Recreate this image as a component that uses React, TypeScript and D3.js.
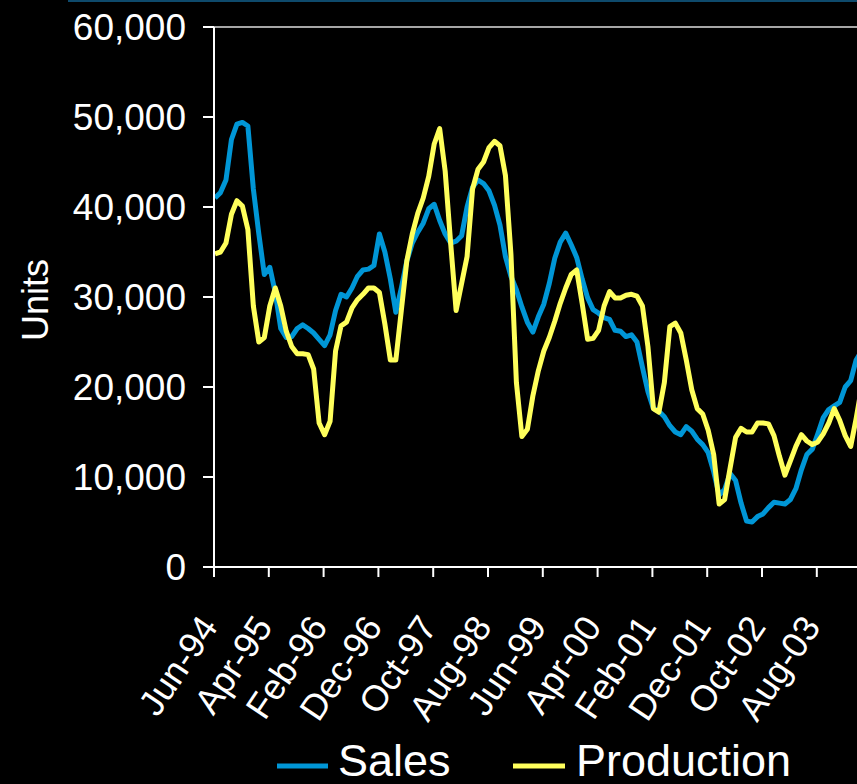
import React from "react";
import * as d3 from "d3";

const SALES: number[] = [
  41000, 41600, 43000, 47500, 49200, 49400, 49000, 42000, 37000, 32500,
  33300, 30500, 26500, 25500, 25600, 26500, 26900, 26500, 26000, 25300,
  24600, 25800, 28500, 30300, 30000, 31000, 32300, 33000, 33100, 33500,
  37000, 35000, 32000, 28300, 31000, 34000, 36000, 37200, 38200, 39800,
  40300, 38500, 37000, 36000, 36200, 36800, 40000, 42200, 43000, 42600,
  41800, 40200, 38000, 34500, 32300, 30800, 28900, 27200, 26100, 27800,
  29200, 31500, 34300, 36100, 37100, 35800, 34400, 32000, 29900, 28600,
  28200, 27700, 27500, 26300, 26200, 25600, 25800, 25000, 22200, 19500,
  17600, 17300, 16700, 15700, 15000, 14700, 15600, 15100, 14200, 13600,
  12700, 10600, 8000, 8600, 10400, 9600, 7100, 5100, 5000, 5600,
  5900, 6600, 7200, 7100, 7000, 7500, 8700, 10800, 12500, 13100,
  14800, 16600, 17500, 17900, 18300, 20000, 20700, 23000, 24000,
];

const PRODUCTION: number[] = [
  34800, 35000, 36000, 39200, 40700, 40100, 37500, 29000, 25000, 25500,
  29000, 31000, 29000, 26200, 24500, 23700, 23700, 23600, 22000, 16000,
  14700, 16200, 24000, 26800, 27200, 28800, 29700, 30300, 31000, 31000,
  30500, 27000, 23000, 23000, 28500, 34000, 37000, 39300, 41000, 43400,
  47000, 48700, 44000, 36000, 28500, 31500, 34500, 42000, 44200, 45000,
  46600, 47300, 46800, 43500, 34800, 20500, 14500, 15300, 19000, 21800,
  24000, 25500, 27300, 29300, 31000, 32500, 33000, 29300, 25300, 25400,
  26300, 29000, 30600, 29900, 29900, 30200, 30300, 30100, 29000, 24500,
  17600, 17200, 20500, 26700, 27100, 26000, 23000, 19700, 17600, 17000,
  15200, 12500, 7000, 7500, 11000, 14400, 15400, 15000, 15000, 16000,
  16000, 15900, 14600, 12300, 10200, 11800, 13400, 14700, 14000, 13600,
  13900, 14800, 16000, 17600, 16300, 14600, 13400, 16500, 20000,
];

const X_TICK_LABELS: string[] = [
  "Jun-94", "Apr-95", "Feb-96", "Dec-96", "Oct-97", "Aug-98",
  "Jun-99", "Apr-00", "Feb-01", "Dec-01", "Oct-02", "Aug-03",
];
const X_TICK_STEP = 10;
const Y_TICKS: number[] = [0, 10000, 20000, 30000, 40000, 50000, 60000];

const SERIES = [
  { name: "Sales", values: SALES, color: "#0096D6" },
  { name: "Production", values: PRODUCTION, color: "#FFFF5C" },
];

const W = 857;
const H = 784;
const FONT = "'Liberation Sans', Arial, Helvetica, sans-serif";

export default function App() {
  const x = d3.scaleLinear().domain([0, 120]).range([214, 214 + 120 * 5.48]);
  const y = d3.scaleLinear().domain([0, 60000]).range([567, 27]);
  const fmt = d3.format(",");

  const line = d3
    .line<number>()
    .x((_, i) => x(i) + 1)
    .y((d) => y(d));

  const tickIdx = X_TICK_LABELS.map((_, k) => k * X_TICK_STEP);
  const plotRight = x(120);

  return (
    <svg
      width={W}
      height={H}
      style={{ position: "absolute", left: 0, top: 0, background: "#000" }}
    >
      <rect x={0} y={0} width={W} height={H} fill="#000" />
      {/* top banner rule */}
      <line x1={68} x2={W} y1={0.75} y2={0.75} stroke="#0E4A6C" strokeWidth={2.5} />
      {/* plot area top border */}
      <line x1={214} x2={plotRight} y1={y(60000)} y2={y(60000)} stroke="#A6A6A6" strokeWidth={2} />

      {/* series */}
      {SERIES.map((s) => (
        <path
          key={s.name}
          d={line(s.values) || ""}
          fill="none"
          stroke={s.color}
          strokeWidth={5}
          strokeLinejoin="round"
          strokeLinecap="butt"
        />
      ))}

      {/* y axis */}
      <line x1={214} x2={214} y1={y(60000)} y2={y(0)} stroke="#fff" strokeWidth={2} />
      {Y_TICKS.map((t) => (
        <g key={t}>
          <line x1={203} x2={214} y1={y(t)} y2={y(t)} stroke="#fff" strokeWidth={2} />
          <text
            x={186}
            y={y(t)}
            dy="0.36em"
            textAnchor="end"
            fill="#fff"
            fontFamily={FONT}
            fontSize={37}
          >
            {fmt(t)}
          </text>
        </g>
      ))}
      <text
        transform={`translate(48,${300}) rotate(-90)`}
        textAnchor="middle"
        fill="#fff"
        fontFamily={FONT}
        fontSize={36}
      >
        Units
      </text>

      {/* x axis */}
      <line x1={213} x2={plotRight} y1={y(0)} y2={y(0)} stroke="#fff" strokeWidth={2} />
      {tickIdx.map((i) => (
        <line key={i} x1={x(i)} x2={x(i)} y1={y(0)} y2={y(0) + 10} stroke="#fff" strokeWidth={2} />
      ))}
      {X_TICK_LABELS.map((lab, k) => (
        <text
          key={lab}
          transform={`translate(${x(tickIdx[k]) + 5},627) rotate(-56)`}
          textAnchor="end"
          fill="#fff"
          fontFamily={FONT}
          fontSize={36}
        >
          {lab}
        </text>
      ))}

      {/* legend */}
      <g>
        <line x1={277} x2={328} y1={766} y2={766} stroke={SERIES[0].color} strokeWidth={5} />
        <text x={338} y={776} fill="#fff" fontFamily={FONT} fontSize={45}>
          {SERIES[0].name}
        </text>
        <line x1={513} x2={565} y1={766} y2={766} stroke={SERIES[1].color} strokeWidth={5} />
        <text x={576} y={776} fill="#fff" fontFamily={FONT} fontSize={45}>
          {SERIES[1].name}
        </text>
      </g>
    </svg>
  );
}
